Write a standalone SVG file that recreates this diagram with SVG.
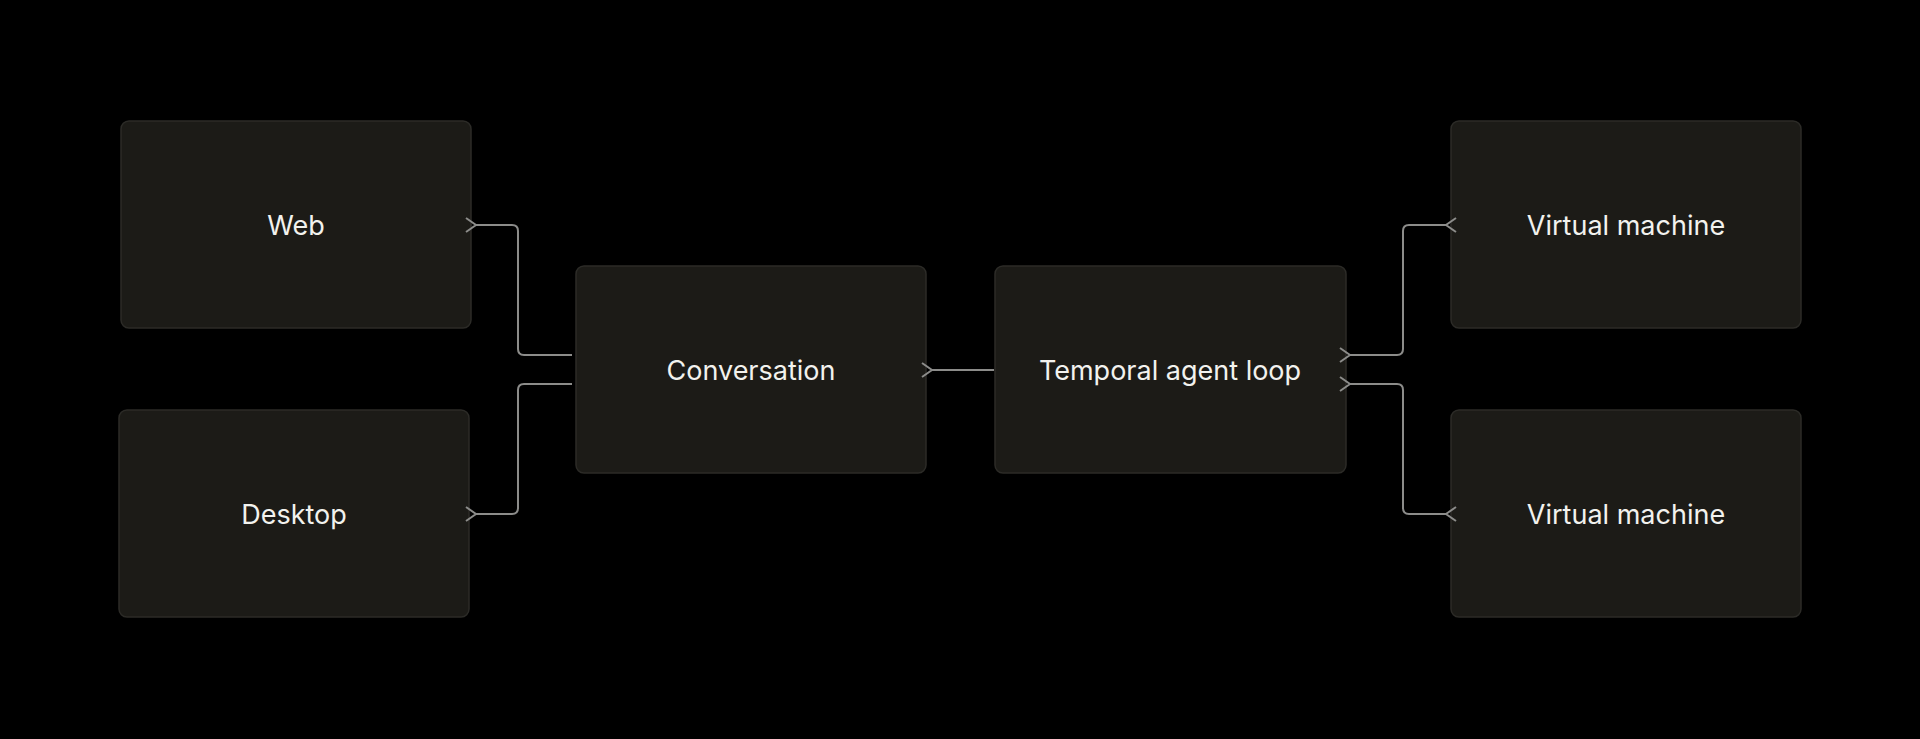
<svg xmlns="http://www.w3.org/2000/svg" width="1920" height="739" viewBox="0 0 1920 739">
<style>
.box{fill:#1c1b17;stroke:#2c2b27;stroke-width:1.5}
.lbl{font-family:Inter,"Liberation Sans",sans-serif;font-size:27px;fill:#f2f2ee;text-anchor:middle;dominant-baseline:central}
.c{fill:none;stroke:#8c8c8a;stroke-width:2}
</style>
<defs>
<marker id="ah" viewBox="0 0 12 16" refX="1" refY="8" markerWidth="12" markerHeight="16" markerUnits="userSpaceOnUse" orient="auto-start-reverse">
<path d="M11 1 L1 8 L11 15" fill="none" stroke="#8c8c8a" stroke-width="2"/>
</marker>
</defs>
<rect width="1920" height="739" fill="#000"/>
<g id="web"><rect class="box" x="121" y="121" width="350" height="207" rx="8"/><text class="lbl" x="296" y="225">Web</text></g>
<g id="desktop"><rect class="box" x="119" y="410" width="350" height="207" rx="8"/><text class="lbl" x="294" y="514">Desktop</text></g>
<g id="conversation"><rect class="box" x="576" y="266" width="350" height="207" rx="8"/><text class="lbl" x="751" y="370">Conversation</text></g>
<g id="temporal"><rect class="box" x="995" y="266" width="351" height="207" rx="8"/><text class="lbl" x="1170" y="370">Temporal agent loop</text></g>
<g id="vm1"><rect class="box" x="1451" y="121" width="350" height="207" rx="8"/><text class="lbl" x="1626" y="225">Virtual machine</text></g>
<g id="vm2"><rect class="box" x="1451" y="410" width="350" height="207" rx="8"/><text class="lbl" x="1626" y="514">Virtual machine</text></g>
<g id="connectors">
<path class="c" d="M572 355 H524 Q518 355 518 349 V231 Q518 225 512 225 H476" marker-end="url(#ah)"/>
<path class="c" d="M572 384 H524 Q518 384 518 390 V508 Q518 514 512 514 H476" marker-end="url(#ah)"/>
<path class="c" d="M994 370 H932" marker-end="url(#ah)"/>
<path class="c" d="M1350 355 H1397 Q1403 355 1403 349 V231 Q1403 225 1409 225 H1446" marker-start="url(#ah)" marker-end="url(#ah)"/>
<path class="c" d="M1350 384 H1397 Q1403 384 1403 390 V508 Q1403 514 1409 514 H1446" marker-start="url(#ah)" marker-end="url(#ah)"/>
</g>
</svg>
